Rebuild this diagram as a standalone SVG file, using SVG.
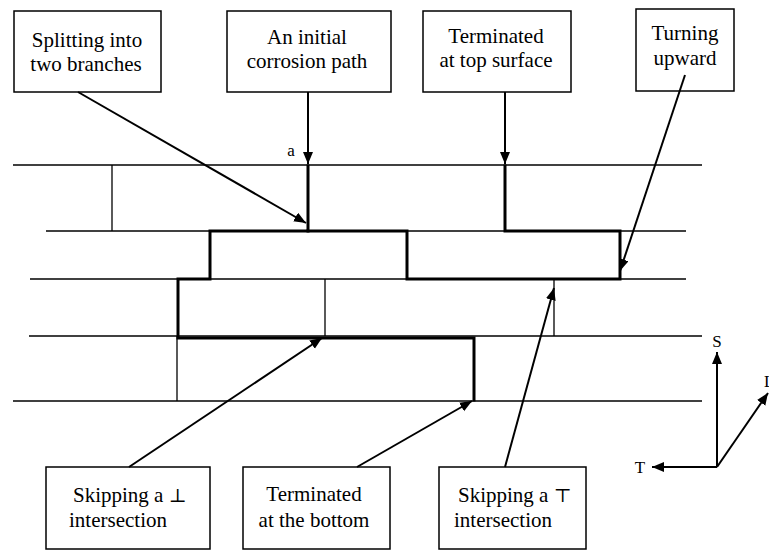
<svg xmlns="http://www.w3.org/2000/svg" width="769" height="550" viewBox="0 0 769 550">
<style>
.box{fill:#fff;stroke:#000;stroke-width:1.5}
text{font-family:'Liberation Serif','DejaVu Serif',serif;fill:#000}
.lbl{font-size:21px}
.ax{font-size:17px}
.sym{font-family:'DejaVu Serif','DejaVu Sans',serif;font-size:19px}
.thin{stroke:#000;stroke-width:1.3;fill:none}
.thick{stroke:#000;stroke-width:3;fill:none;stroke-linejoin:miter;stroke-linecap:square}
.con{stroke:#000;stroke-width:2;fill:none}
</style>
<defs>
<marker id="ah" markerUnits="userSpaceOnUse" markerWidth="13" markerHeight="11" refX="12" refY="5" orient="auto" viewBox="0 0 13 11">
<path d="M0,0 L12,5 L0,10 z" fill="#000"/>
</marker>
</defs>
<rect width="769" height="550" fill="#fff"/>
<g id="structure">
<line class="thin" x1="13" y1="165" x2="702" y2="165"/>
<line class="thin" x1="46" y1="231" x2="686" y2="231"/>
<line class="thin" x1="30" y1="279" x2="686" y2="279"/>
<line class="thin" x1="29" y1="336" x2="702" y2="336"/>
<line class="thin" x1="13" y1="401" x2="702" y2="401"/>
<line class="thin" x1="112" y1="165" x2="112" y2="231"/>
<line class="thin" x1="325" y1="279" x2="325" y2="336"/>
<line class="thin" x1="554" y1="279" x2="554" y2="336"/>
<line class="thin" x1="177" y1="336" x2="177" y2="401"/>
<path class="thick" d="M308,166 V231 H210 V279 H178 V338 H474 V400"/>
<path class="thick" d="M308,231 H407 V279 H620 V231 H505 V166"/>
</g>
<g id="n1"><rect class="box" x="14" y="11" width="147" height="81"/>
<text class="lbl" font-family="Liberation Serif, serif" x="87" y="47" text-anchor="middle">Splitting into</text>
<text class="lbl" font-family="Liberation Serif, serif" x="86" y="71" text-anchor="middle">two branches</text></g>
<g id="n2"><rect class="box" x="227" y="11" width="164" height="81"/>
<text class="lbl" x="307" y="44" text-anchor="middle">An initial</text>
<text class="lbl" x="307" y="68" text-anchor="middle">corrosion path</text></g>
<g id="n3"><rect class="box" x="423" y="11" width="148" height="81"/>
<text class="lbl" x="496" y="43" text-anchor="middle">Terminated</text>
<text class="lbl" x="496" y="67" text-anchor="middle">at top surface</text></g>
<g id="n4"><rect class="box" x="636" y="9" width="98" height="82"/>
<text class="lbl" x="685" y="40" text-anchor="middle">Turning</text>
<text class="lbl" x="685" y="65" text-anchor="middle">upward</text></g>
<g id="n5"><rect class="box" x="46" y="467" width="164" height="82"/>
<text class="lbl" x="73" y="502">Skipping a <tspan class="sym">⊥</tspan></text>
<text class="lbl" x="69" y="527">intersection</text></g>
<g id="n6"><rect class="box" x="243" y="467" width="147" height="82"/>
<text class="lbl" x="314" y="501" text-anchor="middle">Terminated</text>
<text class="lbl" x="314" y="527" text-anchor="middle">at the bottom</text></g>
<g id="n7"><rect class="box" x="439" y="467" width="147" height="82"/>
<text class="lbl" x="458" y="502">Skipping a <tspan class="sym">⊤</tspan></text>
<text class="lbl" x="454" y="527">intersection</text></g>
<g id="connectors">
<line class="con" x1="78" y1="92" x2="306" y2="223" marker-end="url(#ah)"/>
<line class="con" x1="308" y1="92" x2="308" y2="164" marker-end="url(#ah)"/>
<line class="con" x1="505" y1="92" x2="505" y2="164" marker-end="url(#ah)"/>
<line class="con" x1="685" y1="75" x2="620" y2="271" marker-end="url(#ah)"/>
<line class="con" x1="129" y1="467" x2="322" y2="338" marker-end="url(#ah)"/>
<line class="con" x1="357" y1="467" x2="472" y2="401" marker-end="url(#ah)"/>
<line class="con" x1="505" y1="467" x2="554" y2="288" marker-end="url(#ah)"/>
</g>
<g id="axes">
<line class="con" x1="717" y1="467" x2="717" y2="352" marker-end="url(#ah)"/>
<line class="con" x1="717" y1="467" x2="652" y2="467" marker-end="url(#ah)"/>
<line class="con" x1="717" y1="467" x2="768" y2="393" marker-end="url(#ah)"/>
<text class="ax" x="717" y="347" text-anchor="middle">S</text>
<text class="ax" x="640" y="473" text-anchor="middle">T</text>
<text class="ax" x="764" y="387">L</text>
</g>
<text class="ax" x="291" y="156" text-anchor="middle">a</text>
</svg>
